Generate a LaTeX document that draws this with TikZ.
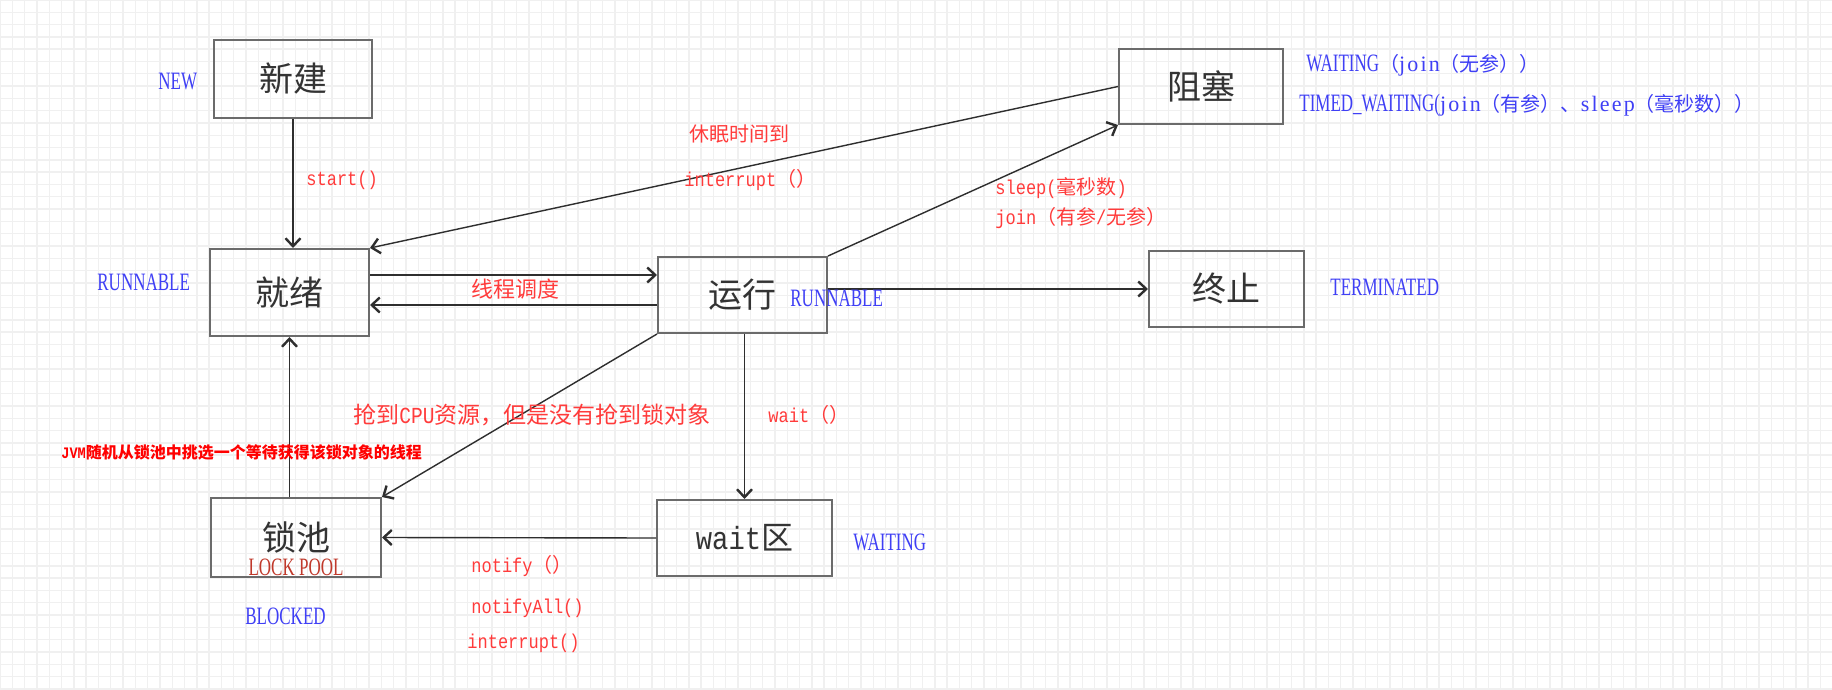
\documentclass[tikz,border=0pt]{standalone}
\usepackage{fontspec}
\setmainfont{Liberation Serif}
\newfontfamily\cjk{Noto Sans CJK SC}
\newfontfamily\lat[FakeStretch=0.85]{Liberation Mono}
\newfontfamily\capsf[Scale=1.25,FakeStretch=0.68]{Liberation Serif}
\newfontfamily\lowf[Scale=1.1,LetterSpace=10]{Liberation Serif}
\usetikzlibrary{arrows.meta}

% Chinese characters switch to the CJK font by themselves
\XeTeXinterchartokenstate=1
\newXeTeXintercharclass\hanclass
\newcount\hancnt
\def\sethan#1#2{\hancnt=#1\relax
  \loop\XeTeXcharclass\hancnt=\hanclass
  \ifnum\hancnt<#2\relax\advance\hancnt by 1\repeat}
\sethan{"3000}{"303F}
\sethan{"4E00}{"9FFF}
\sethan{"FF00}{"FFEF}
\XeTeXinterchartoks 0 \hanclass = {\begingroup\cjk}
\XeTeXinterchartoks 4095 \hanclass = {\begingroup\cjk}
\XeTeXinterchartoks \hanclass 0 = {\endgroup}
\XeTeXinterchartoks \hanclass 4095 = {\endgroup}

\definecolor{boxgray}{HTML}{6B6B6B}
\definecolor{boxtext}{HTML}{333333}
\definecolor{linegray}{HTML}{2E2E2E}
\definecolor{lblred}{HTML}{FF3B3B}
\definecolor{lblblue}{HTML}{3F3FF5}
\definecolor{lockred}{HTML}{C0392B}
\definecolor{gridc}{HTML}{F0F0F0}

\begin{document}
\begin{tikzpicture}[x=0.5pt, y=-0.5pt,
state/.style={draw=boxgray, line width=1pt, text=boxtext, inner sep=0pt,
  font=\lat\fontsize{17}{20}\selectfont},
redlbl/.style={text=lblred, inner sep=0pt, anchor=west, font=\lat\fontsize{10}{12}\selectfont},
bluelbl/.style={text=lblblue, inner sep=0pt, anchor=west, font=\capsf\fontsize{10}{12}\selectfont},
trans/.style={draw=linegray, line width=0.7pt,
  -{Straight Barb[length=4pt,width=7.5pt,line width=1.2pt]}}]
\useasboundingbox (0,0) rectangle (1832,690);
\fill[white] (0,0) rectangle (1832,690);
\draw[gridc, line width=0.7pt, step=6.15pt] (0,690) grid (1832,0);

% states
\node[state, minimum width=79pt, minimum height=39pt] (xinjian) at (293,79) {新建};
\node[state, minimum width=79.5pt, minimum height=43.5pt] (jiuxu) at (289.5,292.5) {就绪};
\node[state, minimum width=82pt, minimum height=37.5pt] (zuse) at (1201,86.5) {阻塞};
\node[state, minimum width=84.5pt, minimum height=38pt] (yunxing) at (742.5,295) {运行};
\node[state, minimum width=77.5pt, minimum height=38pt] (zhongzhi) at (1226.5,289) {终止};
\node[state, minimum width=85pt, minimum height=39.5pt] (suochi) at (296,537.5) {锁池};
\node[state, minimum width=87.5pt, minimum height=38pt, font=\lat\fontsize{16}{19}\selectfont]
  (waitqu) at (744.5,538) {wait区};

% transitions
\draw[trans] (xinjian.south) -- (xinjian.south |- jiuxu.north);
\draw[trans] (zuse.west) -- (jiuxu.north east);
\draw[trans] (yunxing.north east) -- (zuse.south west);
\draw[trans] ([yshift=8.75pt]jiuxu.east) -- ([yshift=8.75pt]jiuxu.east -| yunxing.west);
\draw[trans] ([yshift=-5pt]yunxing.west) -- ([yshift=-5pt]yunxing.west -| jiuxu.east);
\draw[trans] (yunxing.east |- zhongzhi.west) -- (zhongzhi.west);
\draw[trans] (yunxing.south west) -- (suochi.north east);
\draw[trans] (waitqu.north |- yunxing.south) -- (waitqu.north);
\draw[trans] (waitqu.west) -- (suochi.east);
\draw[trans] (suochi.north -| jiuxu.south) -- (jiuxu.south);

% thread states
\node[bluelbl] (snew) at (158,82) {NEW};
\node[bluelbl] (srun1) at (97,282) {RUNNABLE};
\node[bluelbl] (srun2) at (790,298) {RUNNABLE};
\node[bluelbl] (swait1) at (1306,65) {WAITING（{\lowf join}（无参））};
\node[bluelbl] (stimed) at (1299,105) {TIMED\_WAITING({\lowf join}（有参）、{\lowf sleep}（毫秒数））};
\node[bluelbl] (sterm) at (1330,287) {TERMINATED};
\node[bluelbl] (sblock) at (245,616) {BLOCKED};
\node[bluelbl] (swait2) at (853,542) {WAITING};
\node[text=lockred, inner sep=0pt, font=\capsf\fontsize{10}{12}\selectfont]
  (lockpool) at (296,567) {LOCK POOL};

% conditions
\node[redlbl] (cstart) at (306,180) {start()};
\node[redlbl] (csleepend) at (689,134) {休眠时间到};
\node[redlbl] (cintr1) at (684,180) {interrupt（）};
\node[redlbl] (csleep) at (995,188) {sleep(毫秒数)};
\node[redlbl] (cjoin) at (995,218) {join（有参/无参）};
\node[redlbl, font=\lat\fontsize{11}{13}\selectfont] (csched) at (471,289) {线程调度};
\node[redlbl, font=\lat\fontsize{11.5}{13}\selectfont] (ccpu) at (353,415) {抢到CPU资源，但是没有抢到锁对象};
\node[redlbl] (cwait) at (768,415) {wait（）};
\node[redlbl, text=red, font=\lat\bfseries\fontsize{8}{10}\selectfont] (cjvm) at (61,452) {JVM随机从锁池中挑选一个等待获得该锁对象的线程};
\node[redlbl] (cnotify) at (471,566) {notify（）};
\node[redlbl] (cnotifyall) at (471,608) {notifyAll()};
\node[redlbl] (cintr2) at (467,643) {interrupt()};
\end{tikzpicture}
\end{document}
